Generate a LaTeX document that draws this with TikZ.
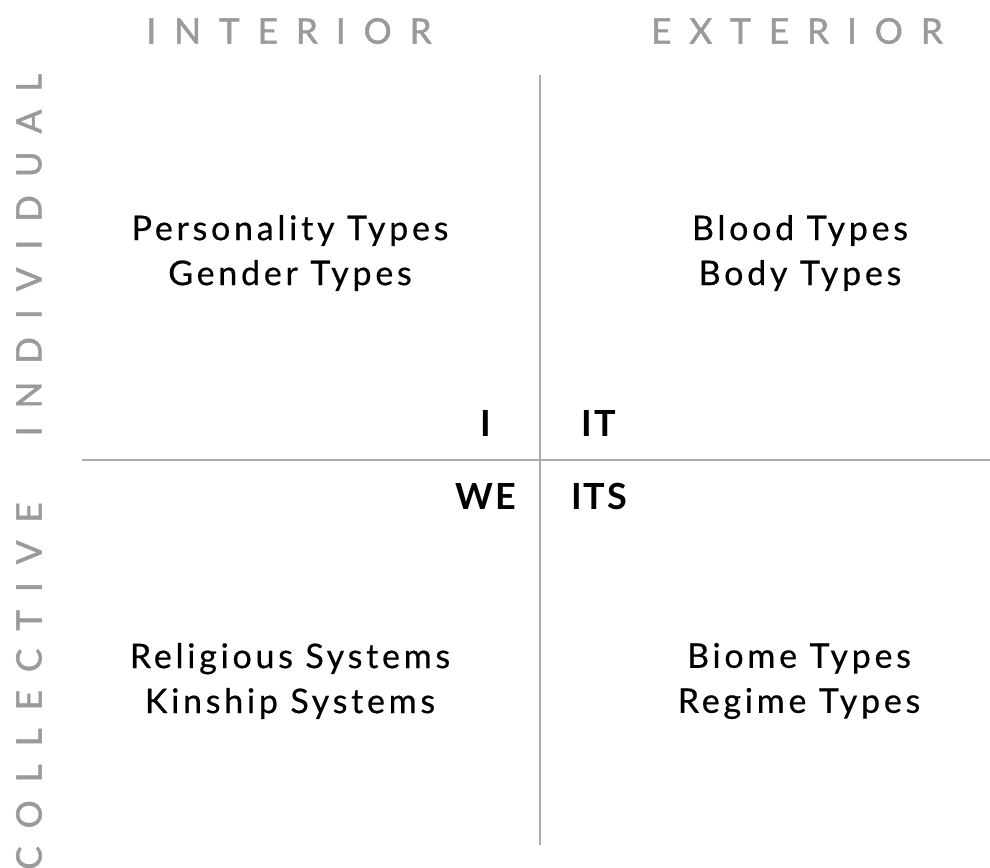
\documentclass[tikz,border=0pt]{standalone}
\usepackage{fontspec}
\setmainfont{Lato}
\definecolor{axisgray}{HTML}{9A9A9A}
\definecolor{linegray}{HTML}{ABABAB}
\newcommand\spc{\hspace{18pt}}
\tikzset{
  axislabel/.style={text=axisgray, font=\fontsize{35}{35}\selectfont\addfontfeature{FakeBold=1.4}, inner sep=0pt},
  quadtext/.style={text=black, align=center, inner sep=0pt, font=\fontsize{34}{45}\selectfont\addfontfeature{LetterSpace=11,FakeBold=0.5}},
  zonelabel/.style={text=black, inner sep=0pt, font=\fontsize{36}{36}\selectfont\bfseries\addfontfeature{LetterSpace=5}},
  divider/.style={draw=linegray, line width=2pt}
}
\begin{document}
\begin{tikzpicture}[x=1pt,y=-1pt]
\useasboundingbox (0,0) rectangle (990,867);
% axes
\coordinate (vtop) at (540,75);
\coordinate (vbot) at (540,845);
\coordinate (hleft) at (82,460);
\coordinate (hright) at (990,460);
\draw[divider] (vtop) -- (vbot);
\draw[divider] (hleft) -- (hright);
% top labels
\node[axislabel] (interior) at (289,31) {I\spc N\spc T\spc E\spc R\spc I\spc O\spc R};
\node[axislabel] (exterior) at (797,31) {E\spc X\spc T\spc E\spc R\spc I\spc O\spc R};
% side labels
\node[axislabel, rotate=90] (individual) at (29,255) {I\spc N\spc D\spc I\spc V\spc I\spc D\spc U\spc A\spc L};
\node[axislabel, rotate=90] (collective) at (29,686) {C\spc O\spc L\spc L\spc E\spc C\spc T\spc I\spc V\spc E};
% quadrant texts
\node[quadtext] (ul) at (290,253) {Personality Types\\Gender Types};
\node[quadtext] (ur) at (800,253) {Blood Types\\Body Types};
\node[quadtext] (ll) at (290,681) {Religious Systems\\Kinship Systems};
\node[quadtext] (lr) at (799,681) {Biome Types\\Regime Types};
% zone labels
\node[zonelabel] (zi) at (486,423) {I};
\node[zonelabel] (zit) at (599,423) {IT};
\node[zonelabel] (zwe) at (486,496) {WE};
\node[zonelabel] (zits) at (599,496) {ITS};
\end{tikzpicture}
\end{document}
